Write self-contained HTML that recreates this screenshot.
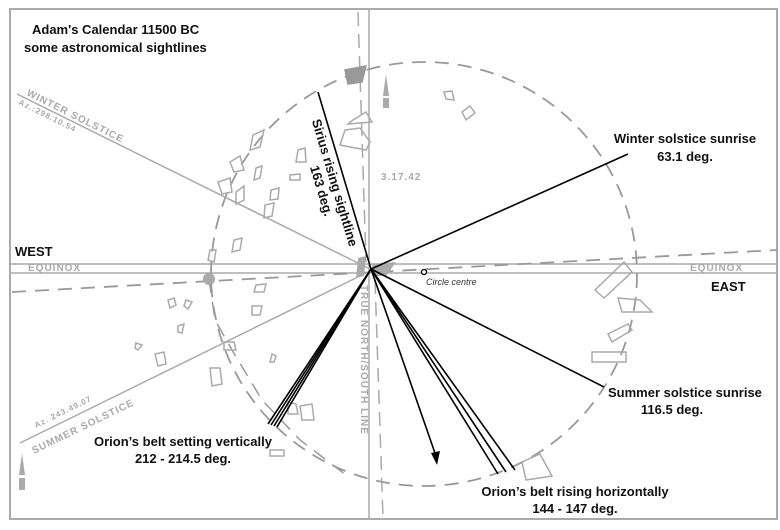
<!DOCTYPE html>
<html><head><meta charset="utf-8"><style>
html,body{margin:0;padding:0;background:#fff}
svg{display:block}
.t{font-family:"Liberation Sans",sans-serif;font-weight:bold;font-size:13px;fill:#111}
.g{font-family:"Liberation Sans",sans-serif;font-weight:bold;font-size:10px;fill:#aaa;letter-spacing:1px}
</style></head><body>
<svg width="780" height="530" viewBox="0 0 780 530" xmlns="http://www.w3.org/2000/svg">
<rect x="0" y="0" width="780" height="530" fill="#fff"/>
<rect x="10" y="9" width="767" height="510" fill="none" stroke="#aaa" stroke-width="2"/>
<!-- vertical -->
<line x1="369" y1="10" x2="369" y2="518" stroke="#aaa" stroke-width="1.5"/>
<line x1="358" y1="12" x2="366" y2="262" stroke="#aaa" stroke-width="1.5" stroke-dasharray="14,8"/>
<line x1="375" y1="280" x2="383" y2="518" stroke="#aaa" stroke-width="1.5" stroke-dasharray="14,8"/>
<!-- equinox band -->
<line x1="10" y1="264" x2="777" y2="264" stroke="#aaa" stroke-width="1.5"/>
<line x1="10" y1="273" x2="777" y2="273" stroke="#aaa" stroke-width="1.5"/>
<line x1="12" y1="292" x2="777" y2="250" stroke="#999" stroke-width="1.8" stroke-dasharray="14,9"/>
<text class="g" x="28" y="271">EQUINOX</text>
<text class="g" x="690" y="271">EQUINOX</text>
<!-- circle -->
<ellipse cx="424" cy="274" rx="213" ry="212" fill="none" stroke="#999" stroke-width="1.8" stroke-dasharray="14,9"/>
<polyline points="209,279 215,320 232,350 262,400 300,440 350,478" fill="none" stroke="#999" stroke-width="1.5" stroke-dasharray="14,9"/>
<circle cx="209" cy="279" r="6" fill="#aaa"/>
<!-- solstice grey lines -->
<line x1="17" y1="94" x2="368" y2="268" stroke="#aaa" stroke-width="1.5"/>
<line x1="20" y1="443" x2="368" y2="272" stroke="#aaa" stroke-width="1.5"/>
<text class="g" transform="translate(26,95) rotate(26.5)">WINTER SOLSTICE</text>
<text class="g" style="font-size:8px" transform="translate(18,104) rotate(26.5)">Az.:298.10.54</text>
<text class="g" transform="translate(34,454) rotate(-26)">SUMMER SOLSTICE</text>
<text class="g" style="font-size:8px" transform="translate(36,428) rotate(-26)">Az. 243.49.07</text>
<text class="g" transform="translate(361,285) rotate(90)">TRUE NORTH/SOUTH LINE</text>
<text class="g" x="381" y="180" style="font-size:10px">3.17.42</text>
<!-- stones -->
<g fill="none" stroke="#aaa" stroke-width="1.5">
<polygon points="345,70 366,66 362,82 348,84" fill="#999" stroke="#999"/>
<polygon points="353,120 366,112 372,122 348,124"/>
<polygon points="345,130 360,128 370,142 366,150 340,145"/>
<polygon points="444,92 452,91 454,100 446,99"/>
<polygon points="462,112 470,106 475,113 466,120"/>
<polygon points="298,150 305,148 306,162 296,162"/>
<polygon points="290,175 300,174 300,180 290,180"/>
<polygon points="253,135 264,130 260,147 250,150"/>
<polygon points="230,162 240,156 244,170 234,172"/>
<polygon points="218,182 230,178 232,192 222,194"/>
<polygon points="256,168 262,166 260,178 254,180"/>
<polygon points="271,190 279,188 278,199 270,200"/>
<polygon points="236,192 244,186 244,200 236,204"/>
<polygon points="265,205 274,203 272,216 264,218"/>
<polygon points="234,240 242,238 240,250 232,252"/>
<polygon points="256,285 266,284 264,292 254,292"/>
<polygon points="168,300 174,298 176,305 170,308"/>
<polygon points="186,300 192,302 188,309 184,306"/>
<polygon points="252,306 262,306 260,315 252,315"/>
<polygon points="178,326 184,324 182,333 178,332"/>
<polygon points="136,343 142,345 138,350 135,348"/>
<polygon points="155,354 164,352 166,364 158,366"/>
<polygon points="224,342 234,342 236,350 224,350"/>
<polygon points="210,368 220,368 222,384 212,386"/>
<polygon points="272,354 276,356 274,362 270,362"/>
<polygon points="288,402 296,404 298,414 288,414"/>
<polygon points="300,406 312,404 314,420 302,420"/>
<polygon points="270,450 284,450 284,456 270,456"/>
<polygon points="595,290 624,262 632,272 604,298"/>
<polygon points="618,298 640,300 652,312 622,312"/>
<polygon points="608,334 628,324 632,330 612,342"/>
<polygon points="592,352 626,352 626,362 592,362"/>
<polygon points="522,462 540,454 552,476 526,480"/>
<polygon points="210,250 216,250 214,262 208,260"/>
</g>
<polygon points="358,258 366,256 364,276 356,278" fill="#aaa"/>
<polygon points="372,264 396,262 386,276 374,276" fill="#aaa"/>
<!-- N arrows -->
<g fill="#aaa"><polygon points="386,74 389,96 383,96"/><rect x="383" y="98" width="6" height="10"/>
<polygon points="22,453 25,475 19,475"/><rect x="19" y="478" width="6" height="12"/></g>
<!-- black sightlines -->
<g stroke="#000" stroke-width="1.6" fill="none">
<line x1="371" y1="269" x2="628" y2="154"/>
<line x1="371" y1="269" x2="604" y2="387"/>
<line x1="371" y1="269" x2="318" y2="92"/>
<line x1="371" y1="269" x2="268" y2="424"/>
<line x1="371" y1="269" x2="271" y2="425"/>
<line x1="371" y1="269" x2="274" y2="426"/>
<line x1="371" y1="269" x2="277" y2="427"/>
<line x1="371" y1="269" x2="498" y2="474"/>
<line x1="371" y1="269" x2="506" y2="472"/>
<line x1="371" y1="269" x2="515" y2="470"/>
<line x1="371" y1="269" x2="436" y2="456"/>
</g>
<polygon points="437,465 431,453 440,451" fill="#000"/>
<circle cx="424" cy="272" r="2.5" fill="#fff" stroke="#000" stroke-width="1.3"/>
<text x="426" y="285" style="font-family:'Liberation Sans',sans-serif;font-style:italic;font-size:9px;fill:#333">Circle centre</text>
<!-- labels -->
<text class="t" x="32" y="34">Adam's Calendar 11500 BC</text>
<text class="t" x="24" y="52">some astronomical sightlines</text>
<text class="t" x="15" y="256">WEST</text>
<text class="t" x="711" y="291">EAST</text>
<text class="t" x="685" y="143" text-anchor="middle">Winter solstice sunrise</text>
<text class="t" x="685" y="161" text-anchor="middle">63.1 deg.</text>
<text class="t" x="608" y="397">Summer solstice sunrise</text>
<text class="t" x="672" y="414" text-anchor="middle">116.5 deg.</text>
<text class="t" x="575" y="496" text-anchor="middle">Orion’s belt rising horizontally</text>
<text class="t" x="575" y="513" text-anchor="middle">144 - 147 deg.</text>
<text class="t" x="183" y="446" text-anchor="middle">Orion’s belt setting vertically</text>
<text class="t" x="183" y="463" text-anchor="middle">212 -  214.5 deg.</text>
<g transform="translate(344,180) rotate(73.4)">
<text class="t" x="0" y="14" text-anchor="middle">Sirius rising sightline</text>
<text class="t" x="4" y="29" text-anchor="middle">163 deg.</text>
</g>
</svg>
</body></html>
